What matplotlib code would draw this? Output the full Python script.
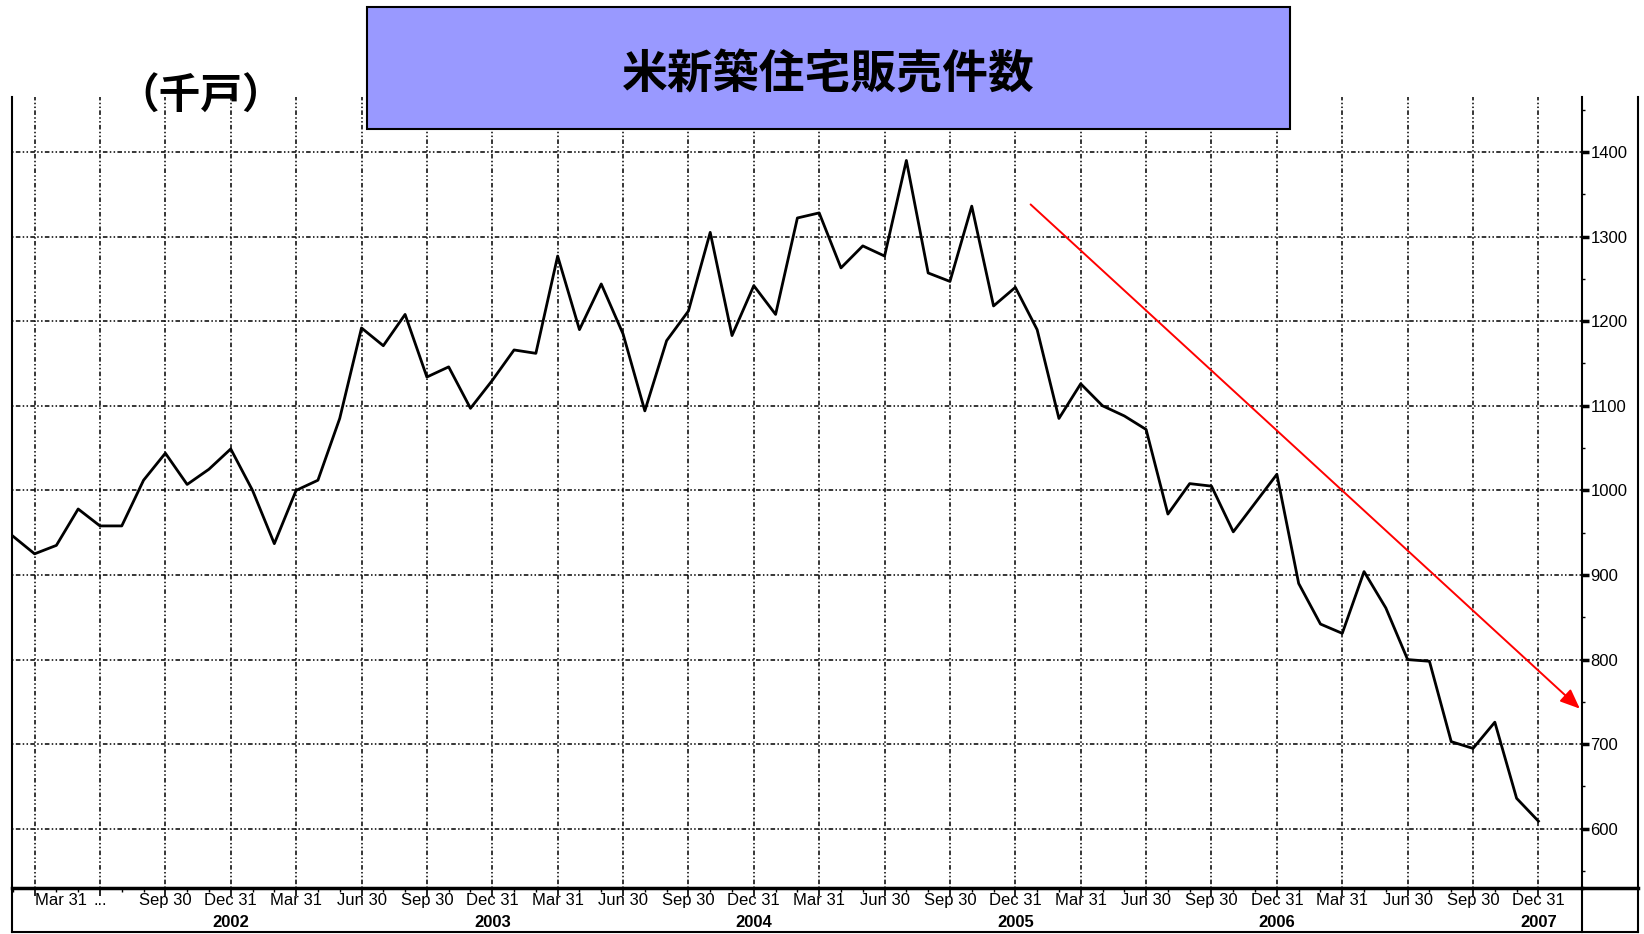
import matplotlib.pyplot as plt
import numpy as np
import pandas as pd
from matplotlib.lines import Line2D
from matplotlib.patches import Rectangle
from matplotlib.ticker import FixedLocator, MultipleLocator

TITLE = "米新築住宅販売件数"
UNIT = "（千戸）"

# monthly points, Feb 2002 .. Dec 2007 (thousands, annual rate)
months = pd.period_range("2002-02", "2007-12", freq="M")
sales = [
    946, 925, 935, 978, 958, 958, 1012, 1044, 1007, 1025, 1049,
    1000, 937, 1000, 1012, 1085, 1192, 1171, 1208, 1134, 1146, 1097, 1130,
    1166, 1162, 1277, 1190, 1244, 1185, 1094, 1177, 1212, 1305, 1183, 1242,
    1208, 1322, 1328, 1263, 1289, 1277, 1390, 1257, 1247, 1336, 1218, 1240,
    1190, 1085, 1126, 1100, 1088, 1072, 972, 1008, 1005, 951, 985, 1019,
    890, 842, 831, 904, 861, 800, 798, 703, 695, 726, 636, 609,
]

quarter_labels = (
    ["Mar 31", "...", "Sep 30", "Dec 31"]
    + ["Mar 31", "Jun 30", "Sep 30", "Dec 31"] * 5
)
year_labels = ["2002", "2003", "2004", "2005", "2006", "2007"]
y_ticks = [600, 700, 800, 900, 1000, 1100, 1200, 1300, 1400]

# red trend arrow (month index, value)
trend_start = (46.7, 1338)
trend_end = (71.9, 742)

W, H = 1644, 934
LABEL_FONT = ["Liberation Sans Narrow", "Liberation Sans", "DejaVu Sans"]
CJK_FONT = ["Noto Sans CJK JP", "DejaVu Sans"]


def fx(px):
    return px / W


def fy(py):
    return 1 - py / H


fig = plt.figure(figsize=(W / 100, H / 100), dpi=100)
fig.patch.set_facecolor("white")

left, right, top, bottom = 11.7, 1582, 97, 888
ax = fig.add_axes([fx(left), fy(bottom), fx(right - left), (bottom - top) / H])

x = np.arange(len(months))
ax.plot(x, sales, color="black", lw=2.0, zorder=3)

ax.set_xlim(-0.05, 72.0)
ax.set_ylim(530, 1465)

# x axis: quarter ends as major, months as minor
quarter_pos = [i for i, m in enumerate(months) if m.month in (3, 6, 9, 12)]
ax.xaxis.set_major_locator(FixedLocator(quarter_pos))
ax.set_xticklabels(quarter_labels, family=LABEL_FONT, fontsize=12)
ax.get_xticklabels()[0].set_horizontalalignment("left")
ax.xaxis.set_minor_locator(FixedLocator(list(x)))
ax.tick_params(axis="x", which="major", direction="out", length=6,
               width=1.2, pad=-2.5)
ax.tick_params(axis="x", which="minor", direction="out", length=3, width=1)

dec_pos = [i for i, m in enumerate(months) if m.month == 12]
for pos, lab in zip(dec_pos, year_labels):
    ax.text(pos, -0.043, lab, transform=ax.get_xaxis_transform(),
            ha="center", va="center", fontsize=12, fontweight="bold",
            family=LABEL_FONT)

# y axis on the right
ax.yaxis.tick_right()
ax.set_yticks(y_ticks)
ax.set_yticklabels([str(v) for v in y_ticks], family=LABEL_FONT, fontsize=12)
ax.yaxis.set_minor_locator(MultipleLocator(50))
ax.tick_params(axis="y", which="major", direction="out", length=5,
               width=2.5, pad=1)
ax.tick_params(axis="y", which="minor", direction="out", length=2, width=1)

ax.grid(True, which="major", color="black", lw=1.1,
        linestyle=(0, (1, 1.5, 3, 1.5, 1, 1.5)))

ax.spines["top"].set_visible(False)
ax.spines["left"].set_linewidth(1.5)
ax.spines["right"].set_linewidth(1.5)
ax.spines["bottom"].set_linewidth(2.5)

ax.annotate(
    "", xy=trend_end, xytext=trend_start, annotation_clip=False,
    arrowprops=dict(arrowstyle="-|>,head_length=0.6,head_width=0.25",
                    color="red", lw=1.4, mutation_scale=20,
                    shrinkA=0, shrinkB=0),
    zorder=4,
)

# frame around the label strip
frame_lines = [
    ((left, left), (bottom, 932)),
    ((right, right), (bottom, 932)),
    ((left, 1638), (932, 932)),
    ((1638, 1638), (top, 932)),
]
for xs, ys in frame_lines:
    fig.add_artist(Line2D([fx(v) for v in xs], [fy(v) for v in ys],
                          color="black", lw=1.5))
fig.add_artist(Line2D([fx(right), fx(1638)], [fy(bottom), fy(bottom)],
                      color="black", lw=2.5))

# title box
fig.add_artist(Rectangle((fx(367), fy(129)), fx(1290 - 367), (129 - 7) / H,
                         facecolor="#9999ff", edgecolor="black", lw=1.5,
                         transform=fig.transFigure, zorder=10))
fig.text(fx(828), fy(75), TITLE, ha="center", va="center", fontsize=33,
         fontweight="bold", family=CJK_FONT, zorder=11)
fig.text(fx(201), fy(97), UNIT, ha="center", va="center", fontsize=30,
         fontweight="bold", family=CJK_FONT)

fig.savefig("out.png", dpi=100)
